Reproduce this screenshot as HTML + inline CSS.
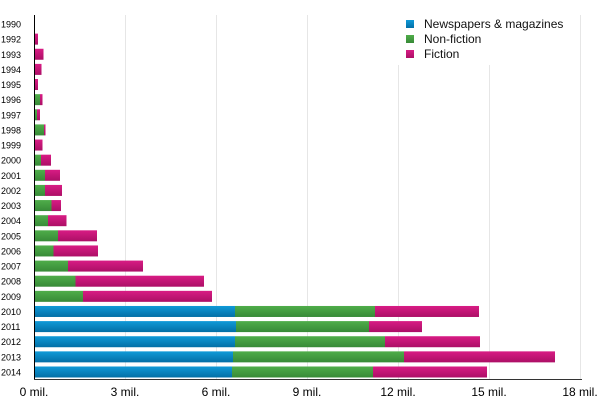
<!DOCTYPE html>
<html><head><meta charset="utf-8"><style>
html,body{margin:0;padding:0;background:#fff;}
svg{display:block;font-family:"Liberation Sans",sans-serif;}
</style></head><body>
<svg width="600" height="400" xmlns="http://www.w3.org/2000/svg">
<defs>
<linearGradient id="gb" x1="0" y1="0" x2="0" y2="1"><stop offset="0" stop-color="#109ad8"/><stop offset="1" stop-color="#036fa6"/></linearGradient>
<linearGradient id="gg" x1="0" y1="0" x2="0" y2="1"><stop offset="0" stop-color="#4fad4a"/><stop offset="1" stop-color="#378a37"/></linearGradient>
<linearGradient id="gp" x1="0" y1="0" x2="0" y2="1"><stop offset="0" stop-color="#d81c84"/><stop offset="1" stop-color="#ac0f66"/></linearGradient>
</defs>
<g stroke="#e6e6e6" stroke-width="1">
<line x1="125.5" y1="15" x2="125.5" y2="379"/>
<line x1="216.5" y1="15" x2="216.5" y2="379"/>
<line x1="307.5" y1="15" x2="307.5" y2="379"/>
<line x1="398.5" y1="15" x2="398.5" y2="379"/>
<line x1="489.5" y1="15" x2="489.5" y2="379"/>
<line x1="580.5" y1="15" x2="580.5" y2="379"/>
</g>
<g id="bars"></g>
<line x1="34.5" y1="15" x2="34.5" y2="380" stroke="#000"/>
<line x1="34" y1="379.5" x2="582" y2="379.5" stroke="#333"/>
<g font-size="12" fill="#000" text-anchor="middle">
<text x="34" y="396">0 mil.</text>
<text x="125" y="396">3 mil.</text>
<text x="216" y="396">6 mil.</text>
<text x="307" y="396">9 mil.</text>
<text x="398" y="396">12 mil.</text>
<text x="489" y="396">15 mil.</text>
<text x="580" y="396">18 mil.</text>
</g>
<rect x="398" y="15" width="182" height="50" fill="#fff"/>
<rect x="406" y="20" width="8" height="8" fill="url(#gb)"/>
<rect x="406" y="35" width="8" height="8" fill="url(#gg)"/>
<rect x="406" y="50" width="8" height="8" fill="url(#gp)"/>
<g font-size="12" fill="#111">
<text x="424" y="28">Newspapers &amp; magazines</text>
<text x="424" y="43">Non-fiction</text>
<text x="424" y="58">Fiction</text>
</g>
<g id="labels" font-size="9" fill="#000"></g>
<script>
var d=[["1990",0,34,34],["1992",0,34,38],["1993",0,34,43.5],["1994",0,34,41.5],["1995",0,34,38],["1996",0,40,42.5],["1997",0,37,40],["1998",0,44,45.5],["1999",0,34,42.5],["2000",0,41,51],["2001",0,45,60],["2002",0,45,62],["2003",0,51.5,61],["2004",0,48,66.5],["2005",0,58,97],["2006",0,53.5,98],["2007",0,68,143],["2008",0,75.5,204],["2009",0,83,212],["2010",235,375,479],["2011",236,369,422],["2012",235,385,480],["2013",233,404,555],["2014",232,373,487]];
var ns="http://www.w3.org/2000/svg",B=document.getElementById("bars"),L=document.getElementById("labels");
function r(x1,x2,y,f){if(x2-x1<=0)return;var e=document.createElementNS(ns,"rect");e.setAttribute("x",x1);e.setAttribute("y",y);e.setAttribute("width",x2-x1);e.setAttribute("height",11);e.setAttribute("fill",f);B.appendChild(e);}
d.forEach(function(a,i){var c=24+i*15.13,y=c-5.5;var b=a[1]||35;
if(a[1])r(35,a[1],y,"url(#gb)");r(b,a[2],y,"url(#gg)");r(Math.max(b,a[2]),a[3],y,"url(#gp)");
var t=document.createElementNS(ns,"text");t.setAttribute("x",1);t.setAttribute("y",c+3.5);t.textContent=a[0];L.appendChild(t);});
</script>
</svg>
</body></html>
